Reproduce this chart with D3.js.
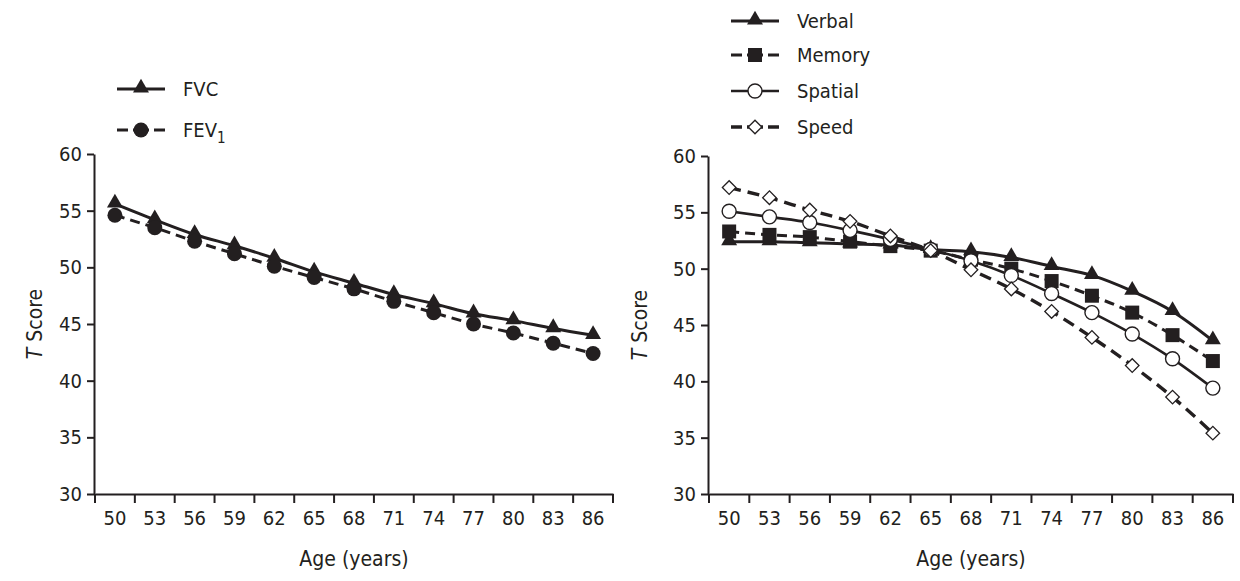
<!DOCTYPE html>
<html>
<head>
<meta charset="utf-8">
<script src="https://cdn.jsdelivr.net/npm/d3@7"></script>
<style>
  body { margin: 0; background: #fff; }
  svg text { font-family: "Liberation Sans Narrow", "DejaVu Sans Condensed", "Roboto", sans-serif; fill: #231f20; }
</style>
</head>
<body>
<div id="chart"></div>
<script>
// ages shared by both panels
var ages = [50, 53, 56, 59, 62, 65, 68, 71, 74, 77, 80, 83, 86];
var yTicks = [30, 35, 40, 45, 50, 55, 60];

// left panel: lung function
var fvc = [55.6, 54.2, 52.9, 51.9, 50.8, 49.6, 48.6, 47.6, 46.8, 45.9, 45.3, 44.6, 44.0];
var fev1 = [54.6, 53.5, 52.3, 51.2, 50.1, 49.1, 48.1, 47.0, 46.0, 45.0, 44.2, 43.3, 42.4];

// right panel: cognition
var verbal = [52.4, 52.4, 52.3, 52.2, 52.1, 51.7, 51.5, 51.0, 50.2, 49.4, 48.0, 46.2, 43.6];
var memory = [53.3, 53.0, 52.8, 52.4, 52.0, 51.6, 50.8, 50.0, 48.9, 47.6, 46.1, 44.1, 41.8];
var spatial = [55.1, 54.6, 54.1, 53.4, 52.6, 51.7, 50.7, 49.4, 47.8, 46.1, 44.2, 42.0, 39.4];
var speed = [57.2, 56.3, 55.2, 54.2, 52.9, 51.6, 49.9, 48.2, 46.2, 43.9, 41.4, 38.6, 35.4];

var ink = "#231f20";

var svg = d3.select("#chart").append("svg")
  .attr("width", 1240)
  .attr("height", 581);

// marker drawing helper
function drawMarker(g, kind, x, y) {
  if (kind === "triangle") {
    g.append("path")
      .attr("d", d3.symbol().type(d3.symbolTriangle).size(110)())
      .attr("transform", "translate(" + x + "," + (y - 1) + ")")
      .attr("fill", ink);
  } else if (kind === "dot") {
    g.append("circle").attr("cx", x).attr("cy", y).attr("r", 7.5).attr("fill", ink);
  } else if (kind === "square") {
    g.append("rect").attr("x", -7).attr("y", -7)
      .attr("width", 14).attr("height", 14)
      .attr("transform", "translate(" + x + "," + y + ")")
      .attr("fill", ink);
  } else if (kind === "ring") {
    g.append("circle").attr("cx", x).attr("cy", y).attr("r", 7)
      .attr("fill", "#fff").attr("stroke", ink).attr("stroke-width", 1.4);
  } else if (kind === "diamond") {
    g.append("rect").attr("x", -4.8).attr("y", -4.8)
      .attr("width", 9.6).attr("height", 9.6)
      .attr("transform", "translate(" + x + "," + y + ") rotate(45)")
      .attr("fill", "#fff").attr("stroke", ink).attr("stroke-width", 1.3);
  }
}

function panel(opts) {
  var g = svg.append("g");
  var x = d3.scaleBand().domain(ages).range([opts.x0, opts.x1]).padding(0);
  var y = d3.scaleLinear().domain([30, 60]).range([opts.yBottom, opts.yTop]);

  // y axis
  var yAxis = g.append("g")
    .attr("transform", "translate(" + opts.yAxisX + ",0)")
    .call(d3.axisLeft(y).tickValues(yTicks).tickSize(7).tickSizeOuter(0));
  yAxis.select(".domain").attr("stroke", ink).attr("stroke-width", 2);
  yAxis.selectAll(".tick line").attr("stroke", ink).attr("stroke-width", 2);
  yAxis.selectAll(".tick text").attr("x", -12).attr("font-size", 20);

  // x axis: labels centred in bands, ticks on band edges
  var xAxis = g.append("g")
    .attr("transform", "translate(0," + opts.yBottom + ")")
    .call(d3.axisBottom(x).tickSize(0).tickSizeOuter(0));
  xAxis.select(".domain").attr("stroke", ink).attr("stroke-width", 2);
  xAxis.selectAll(".tick text").attr("y", 17).attr("font-size", 20);
  var edges = ages.map(function (a) { return x(a); }).concat([x(ages[ages.length - 1]) + x.bandwidth()]);
  xAxis.selectAll(".edge").data(edges).join("line")
    .attr("class", "edge")
    .attr("x1", function (d) { return d; }).attr("x2", function (d) { return d; })
    .attr("y1", 0).attr("y2", 9)
    .attr("stroke", ink).attr("stroke-width", 2);
  g.selectAll("text").attr("font-family", null);

  // axis titles
  g.append("text")
    .attr("x", (opts.x0 + opts.x1) / 2)
    .attr("y", opts.yBottom + 72)
    .attr("text-anchor", "middle")
    .attr("font-size", 21)
    .text("Age (years)");
  var yt = g.append("text")
    .attr("transform", "translate(" + opts.yTitleX + "," + ((opts.yTop + opts.yBottom) / 2) + ") rotate(-90)")
    .attr("text-anchor", "middle")
    .attr("font-size", 21);
  yt.append("tspan").attr("font-style", "italic").text("T");
  yt.append("tspan").text(" Score");

  // series lines then markers
  var line = d3.line()
    .x(function (d, i) { return x(ages[i]) + x.bandwidth() / 2; })
    .y(function (d) { return y(d); })
    .curve(d3.curveMonotoneX);

  opts.series.forEach(function (s) {
    g.append("path")
      .datum(s.values)
      .attr("d", line)
      .attr("fill", "none")
      .attr("stroke", ink)
      .attr("stroke-width", s.width || 3)
      .attr("stroke-dasharray", s.dash || null);
  });
  opts.series.forEach(function (s) {
    var mg = g.append("g");
    s.values.forEach(function (v, i) {
      drawMarker(mg, s.marker, x(ages[i]) + x.bandwidth() / 2, y(v));
    });
  });

  // legend
  opts.series.forEach(function (s, i) {
    var ly = opts.legendY[i];
    var lg = g.append("g");
    lg.append("line")
      .attr("x1", opts.legendX).attr("x2", opts.legendX + 48)
      .attr("y1", ly).attr("y2", ly)
      .attr("stroke", ink).attr("stroke-width", s.width || 3)
      .attr("stroke-dasharray", s.dash ? "11,5,16,5,11" : null);
    drawMarker(lg, s.marker, opts.legendX + 24, ly);
    var t = lg.append("text")
      .attr("x", opts.legendX + 66)
      .attr("y", ly + 7)
      .attr("font-size", 20)
      .text(s.name);
    if (s.sub) {
      t.append("tspan").attr("dy", 6).attr("font-size", 15).text(s.sub);
    }
  });
}

panel({
  x0: 95, x1: 613, yAxisX: 94, yTop: 154, yBottom: 494, yTitleX: 42,
  legendX: 117, legendY: [89, 130],
  series: [
    { name: "FVC", values: fvc, marker: "triangle" },
    { name: "FEV", sub: "1", values: fev1, marker: "dot", dash: "10,6" }
  ]
});

panel({
  x0: 709, x1: 1233, yAxisX: 708, yTop: 156, yBottom: 494, yTitleX: 647,
  legendX: 731, legendY: [21, 55, 91, 127],
  series: [
    { name: "Verbal", values: verbal, marker: "triangle" },
    { name: "Memory", values: memory, marker: "square", dash: "10,6" },
    { name: "Spatial", values: spatial, marker: "ring", width: 2.6 },
    { name: "Speed", values: speed, marker: "diamond", dash: "12,7", width: 3.4 }
  ]
});
</script>
</body>
</html>
